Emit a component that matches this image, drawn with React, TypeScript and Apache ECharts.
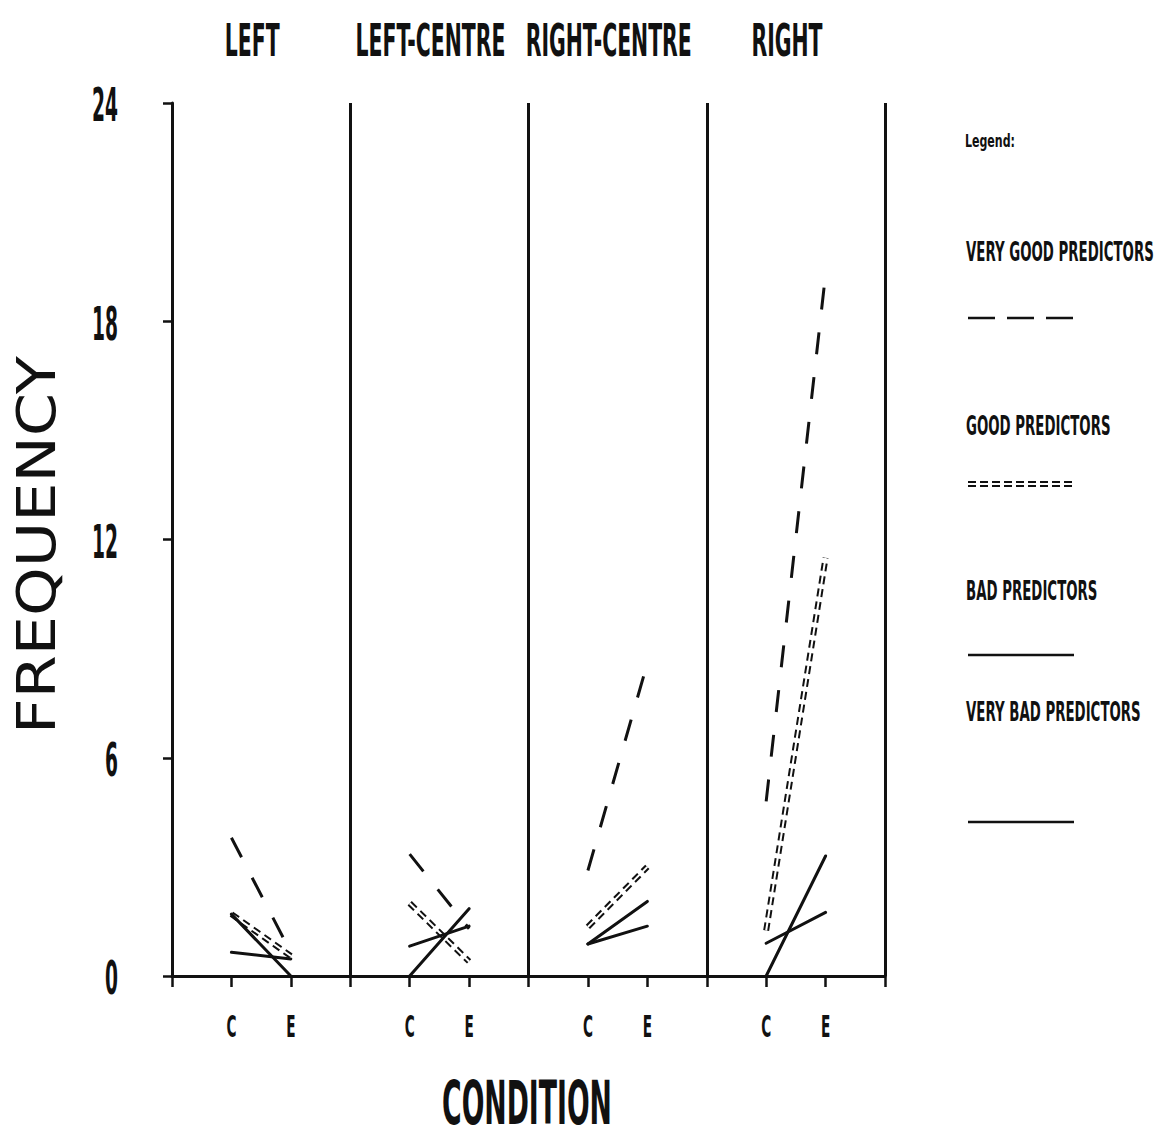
import React, { useEffect, useRef } from "react";
import * as echarts from "echarts";

// ---- data ----
const panels = ["LEFT", "LEFT-CENTRE", "RIGHT-CENTRE", "RIGHT"];
const conditions = ["C", "E"];
const yTickValues = [0, 6, 12, 18, 24];
// frequency at [C, E] for each panel
const veryGood = [[3.8, 0.65], [3.35, 1.3], [2.9, 8.6], [4.8, 19.3]];
const good = [[1.7, 0.55], [2.0, 0.4], [1.35, 3.0], [1.25, 11.5]];
const bad = [[1.7, 0], [0, 1.85], [0.88, 2.05], [0, 3.3]];
const veryBad = [[0.65, 0.47], [0.82, 1.37], [0.88, 1.37], [0.9, 1.75]];
const legendNames = ["VERY GOOD PREDICTORS", "GOOD PREDICTORS", "BAD PREDICTORS", "VERY BAD PREDICTORS"];

const INK = "#111";
const FONT = "DejaVu Sans";

export default function App() {
  const ref = useRef<HTMLDivElement>(null);

  useEffect(() => {
    document.body.style.margin = "0";
    const el = ref.current!;
    const chart = echarts.init(el, null, { renderer: "svg" });

    const toData = (pairs: number[][]) =>
      pairs.flatMap((p, i) => [
        [3 * i + 1, p[0]],
        [3 * i + 2, p[1]],
        [3 * i + 3, "-"],
      ]);

    const base: any = {
      type: "line",
      symbol: "none",
      showSymbol: false,
      silent: true,
      connectNulls: false,
      emphasis: { disabled: true },
    };

    const veryGoodStyle = { color: INK, width: 3, type: [22, 23] };
    const goodStyle = { color: INK, width: 6, type: [8, 5] };
    const goodInner = { color: "#fff", width: 2, type: "solid" };
    const solidStyle = { color: INK, width: 3, type: "solid", cap: "round" };

    const option: any = {
      animation: false,
      backgroundColor: "#fff",
      grid: { left: 172, right: 272, top: 103, bottom: 161 },
      xAxis: {
        type: "value",
        min: 0,
        max: panels.length * 3,
        interval: 1,
        axisLine: { show: true, lineStyle: { color: INK, width: 3 } },
        axisTick: { show: true, length: 11, lineStyle: { color: INK, width: 2.5 } },
        axisLabel: { show: false },
        splitLine: { show: false },
      },
      yAxis: {
        type: "value",
        min: 0,
        max: 24,
        interval: 6,
        axisLine: { show: true, lineStyle: { color: INK, width: 3 } },
        axisTick: { show: true, length: 9, lineStyle: { color: INK, width: 2.5 } },
        axisLabel: { show: false },
        splitLine: { show: false },
      },
      series: [
        {
          ...base,
          name: legendNames[0],
          data: toData(veryGood),
          lineStyle: veryGoodStyle,
          markLine: {
            silent: true,
            symbol: ["none", "none"],
            label: { show: false },
            emphasis: { disabled: true },
            lineStyle: { color: INK, width: 3, type: "solid" },
            data: panels.map((_, i) => ({ xAxis: 3 * (i + 1) })),
          },
        },
        { ...base, name: legendNames[1], data: toData(good), lineStyle: goodStyle },
        { ...base, name: legendNames[1] + " inner", data: toData(good), lineStyle: goodInner },
        { ...base, name: legendNames[2], data: toData(bad), lineStyle: solidStyle },
        { ...base, name: legendNames[3], data: toData(veryBad), lineStyle: solidStyle },
      ],
    };
    chart.setOption(option);

    // ---- texts (condensed plotter lettering) ----
    const ctx = document.createElement("canvas").getContext("2d")!;
    const measure = (t: string, size: number, weight = "bold") => {
      ctx.font = `${weight} ${size}px "${FONT}"`;
      return ctx.measureText(t).width;
    };
    const fit = (t: string, size: number, target: number, weight = "bold") =>
      target / measure(t, size, weight);

    const px = (x: number, y: number) =>
      chart.convertToPixel({ xAxisIndex: 0, yAxisIndex: 0 }, [x, y]) as number[];

    const T = (
      text: string,
      x: number,
      y: number,
      size: number,
      sx: number,
      align = "center",
      rotation = 0,
      weight = "bold"
    ) => ({
      type: "text",
      x,
      y,
      scaleX: sx,
      scaleY: 1,
      rotation,
      silent: true,
      z: 10,
      style: {
        text,
        fill: INK,
        fontFamily: FONT,
        fontSize: size,
        fontWeight: weight,
        align,
        verticalAlign: "middle",
        textAlign: align,
        textVerticalAlign: "middle",
      },
    });

    const els: any[] = [];

    // panel titles
    const titleSize = 44;
    const titleScale = fit("LEFT-CENTRE", titleSize, 150);
    panels.forEach((p, i) => {
      const [x] = px(3 * i + 1.35, 0);
      els.push(T(p, x, 41, titleSize, titleScale));
    });

    // y tick labels
    const ySize = 46;
    const yScale = fit("24", ySize, 26);
    yTickValues.forEach((v) => {
      const [, y] = px(0, v);
      els.push(T(String(v), 118, y + 2, ySize, yScale, "right"));
    });

    // condition labels
    const cSize = 31;
    const cScale = fit("C", cSize, 10);
    panels.forEach((_, i) => {
      conditions.forEach((c, j) => {
        const [x] = px(3 * i + 1 + j, 0);
        els.push(T(c, x, 1027, cSize, cScale));
      });
    });

    // axis names
    els.push(T("CONDITION", 527, 1103, 60, fit("CONDITION", 60, 170)));
    els.push(
      T("FREQUENCY", 36, 545, 54, fit("FREQUENCY", 54, 378, "normal"), "center", Math.PI / 2, "normal")
    );

    // legend
    els.push(T("Legend:", 965, 141, 17, fit("Legend:", 17, 50), "left"));
    const legSize = 27;
    const legScale = fit("VERY GOOD PREDICTORS", legSize, 188);
    const legTextY = [251, 425, 590, 711];
    const legLineY = [318, 484, 655, 822];
    legendNames.forEach((n, i) => {
      els.push(T(n, 966, legTextY[i], legSize, legScale, "left"));
    });
    const L = (y: number, stroke: string, w: number, dash?: number[]) => ({
      type: "line",
      silent: true,
      z: 10,
      shape: { x1: 968, y1: y, x2: 1074, y2: y },
      style: { stroke, lineWidth: w, lineDash: dash || null },
    });
    els.push(L(legLineY[0], INK, 2.5, [27, 12]));
    els.push(L(legLineY[1], INK, 6, [8, 4]));
    els.push(L(legLineY[1], "#fff", 2));
    els.push(L(legLineY[2], INK, 2.5));
    els.push(L(legLineY[3], INK, 2.5));

    chart.setOption({ graphic: { elements: els } });

    return () => chart.dispose();
  }, []);

  return <div ref={ref} style={{ width: 1157, height: 1137 }} />;
}
